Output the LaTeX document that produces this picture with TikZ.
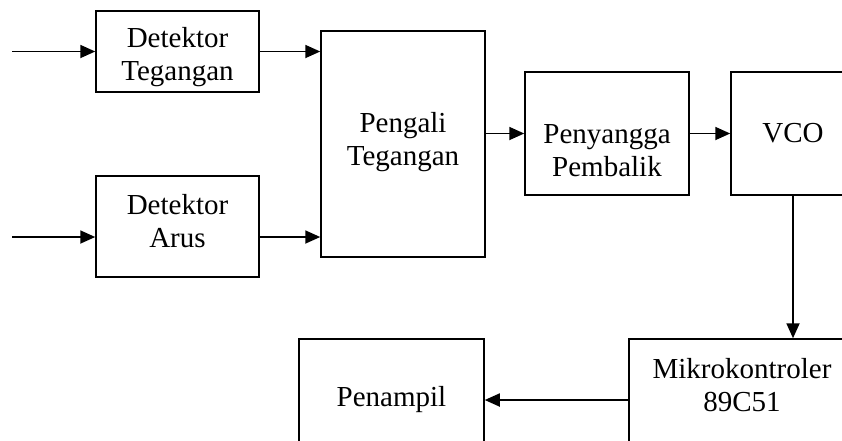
\documentclass[tikz,border=0pt]{standalone}
\usepackage{fontspec}
\setmainfont{Liberation Serif}
\usetikzlibrary{arrows.meta}
\begin{document}
\begin{tikzpicture}[x=1pt,y=-1pt,
  blk/.style={draw, line width=1.5pt, rectangle, inner sep=0pt},
  lbl/.style={align=center, inner sep=0pt, font=\fontsize{29}{33}\selectfont},
  con/.style={line width=1.8pt, -{Triangle[length=15pt,width=13pt]}}]
\clip (0,0) rectangle (842,440);
\fill[white] (0,0) rectangle (842,440);
% boxes
\node[blk, minimum width=163pt, minimum height=81pt] (dt) at (177.5,51.5) {};
\node[blk, minimum width=163pt, minimum height=101pt] (da) at (177.5,226.5) {};
\node[blk, minimum width=164pt, minimum height=226pt] (pg) at (403,144) {};
\node[blk, minimum width=164pt, minimum height=123pt] (pp) at (607,133.5) {};
\node[blk, minimum width=124pt, minimum height=123pt] (vco) at (793,133.5) {};
\node[blk, minimum width=226pt, minimum height=122pt] (mk) at (742,400) {};
\node[blk, minimum width=185pt, minimum height=122pt] (pn) at (391.5,400) {};
% labels
\node[lbl] (dtT) at (177.5,57) {Detektor\\Tegangan};
\node[lbl] (daT) at (177.5,221) {Detektor\\Arus};
\node[lbl] (pgT) at (403,142) {Pengali\\Tegangan};
\node[lbl] (ppT) at (607,151) {Penyangga\\Pembalik};
\node[lbl] (vcoT) at (793,133) {VCO};
\node[lbl] (mkT) at (742,385) {Mikrokontroler\\89C51};
\node[lbl] (pnT) at (391.5,400) {Penampil};
% connectors
\coordinate (in1) at (12,51.5);
\coordinate (in2) at (12,237);
\draw[con] (in1) -- (dt.west);
\draw[con] (in2) -- (in2 -| da.west);
\draw[con] (dt.east) -- (dt.east -| pg.west);
\draw[con] (in2 -| da.east) -- (in2 -| pg.west);
\draw[con] (pp.west -| pg.east) -- (pp.west);
\draw[con] (pp.east) -- (vco.west);
\draw[con] (vco.south) -- (vco.south |- mk.north);
\draw[con] (mk.west) -- (pn.east);
\end{tikzpicture}
\end{document}
